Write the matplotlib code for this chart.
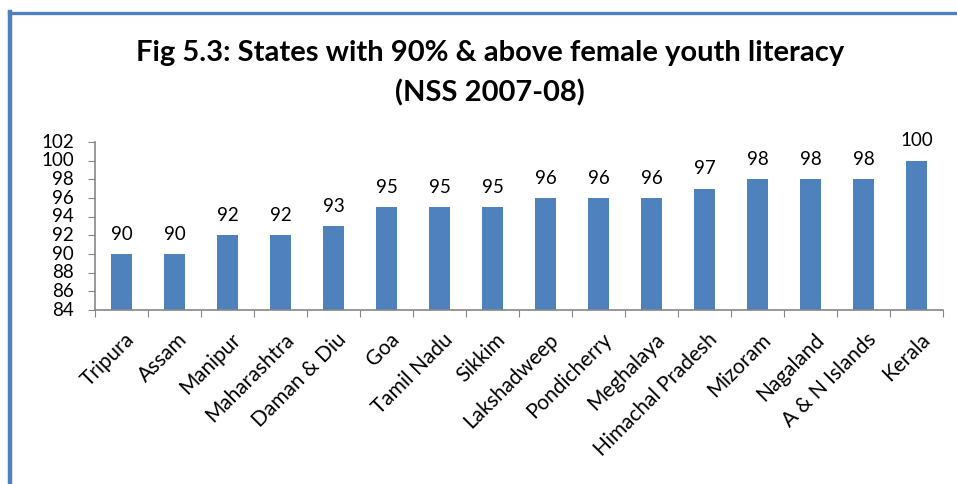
import matplotlib
matplotlib.use("Agg")
import matplotlib.pyplot as plt
from matplotlib.lines import Line2D
from matplotlib.transforms import ScaledTranslation

states = ["Tripura", "Assam", "Manipur", "Maharashtra", "Daman & Diu", "Goa",
          "Tamil Nadu", "Sikkim", "Lakshadweep", "Pondicherry", "Meghalaya",
          "Himachal Pradesh", "Mizoram", "Nagaland", "A & N Islands", "Kerala"]
literacy = [90, 90, 92, 92, 93, 95, 95, 95, 96, 96, 96, 97, 98, 98, 98, 100]
yticks = list(range(84, 103, 2))

plt.rcParams['font.family'] = ['Lato', 'DejaVu Sans']

W, H = 957, 484
fig = plt.figure(figsize=(W / 100, H / 100), dpi=100)
ax = fig.add_axes([95 / W, 1 - 310 / H, (943 - 95) / W, (310 - 142) / H])

x = list(range(len(states)))
ax.bar(x, literacy, width=0.4, color="#4F81BD", bottom=0)
for xi, v in zip(x, literacy):
    ax.text(xi, v + 1.2, f"{v}", ha="center", va="bottom", fontsize=13.5)

ax.set_xlim(-0.5, len(states) - 0.5)
ax.set_ylim(84, 102)
ax.set_yticks(yticks)
ax.set_yticklabels([str(t) for t in yticks], fontsize=13.5)
ax.set_xticks([i - 0.5 for i in range(len(states) + 1)], minor=False)
ax.set_xticklabels([])
ax.set_xticks(x, minor=True)
ax.set_xticklabels(states, minor=True, rotation=45, ha="right",
                   rotation_mode="anchor", fontsize=15)
ax.tick_params(axis="x", which="minor", length=0, pad=14)
ax.tick_params(axis="x", which="major", length=5, color="#868686", direction="out")
ax.tick_params(axis="y", length=5, color="#868686", pad=10)
off = ScaledTranslation(3 / 100, 0, fig.dpi_scale_trans)
for lbl in ax.get_xticklabels(minor=True):
    lbl.set_transform(lbl.get_transform() + off)
for s in ["top", "right"]:
    ax.spines[s].set_visible(False)
for s in ["left", "bottom"]:
    ax.spines[s].set_color("#868686")
    ax.spines[s].set_linewidth(1.2)
for lbl in ax.get_yticklabels():
    lbl.set_verticalalignment("center")

fig.text(490 / W, 1 - 53 / H, "Fig 5.3: States with 90% & above female youth literacy",
         ha="center", va="center", fontsize=21, fontweight="bold")
fig.text(490 / W, 1 - 93 / H, "(NSS 2007-08)",
         ha="center", va="center", fontsize=21, fontweight="bold")

# frame lines
fig.add_artist(Line2D([10 / W, 10 / W], [0, 1 - 12 / H], transform=fig.transFigure,
                      color="#4F81BD", linewidth=3.2))
fig.add_artist(Line2D([8.5 / W, 1], [1 - 12.5 / H, 1 - 12.5 / H], transform=fig.transFigure,
                      color="#4F81BD", linewidth=2.4))

fig.savefig("out.png", dpi=100)
